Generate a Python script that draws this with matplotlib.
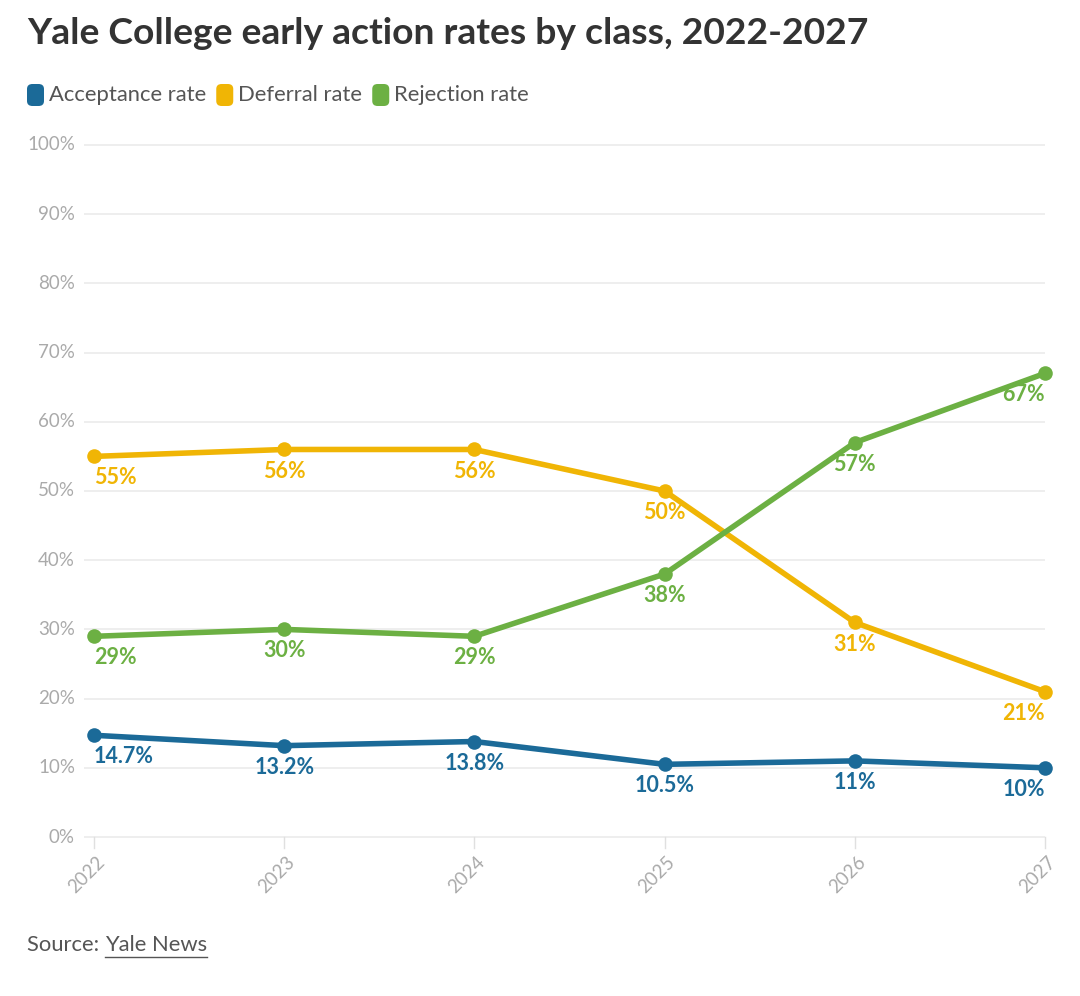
import matplotlib
matplotlib.use("Agg")
import matplotlib.pyplot as plt
from matplotlib.patches import FancyBboxPatch

years = [2022, 2023, 2024, 2025, 2026, 2027]
acceptance = [14.7, 13.2, 13.8, 10.5, 11, 10]
deferral = [55, 56, 56, 50, 31, 21]
rejection = [29, 30, 29, 38, 57, 67]
acc_labels = ["14.7%", "13.2%", "13.8%", "10.5%", "11%", "10%"]
yticks = [0, 10, 20, 30, 40, 50, 60, 70, 80, 90, 100]

blue = "#1b6a98"
yellow = "#f0b505"
green = "#6cb043"
grey_txt = "#aaaaaa"

plt.rcParams["font.family"] = ["Lato", "DejaVu Sans"]

fig = plt.figure(figsize=(10.8, 9.96), dpi=100)
ax = fig.add_axes([94 / 1080, 1 - 837 / 996, (1045 - 94) / 1080, (837 - 145) / 996])
ax.set_xlim(2022, 2027)
ax.set_ylim(0, 100)
for s in ax.spines.values():
    s.set_visible(False)
ax.set_xticks([])
ax.set_yticks([])

# grid
ax.hlines(yticks, 2021.95, 2027, color="#ebebeb", lw=1.2, zorder=0, clip_on=False)
for v in yticks:
    ax.text(2021.9, v, f"{v}%", ha="right", va="center", fontsize=13.5, color=grey_txt)
for yr in years:
    ax.plot([yr, yr], [0, -1.6], color="#e0e0e0", lw=1, clip_on=False)
    ax.text(yr + 0.01, -2.4, str(yr), rotation=45, ha="right", va="top", fontsize=13.5,
            color=grey_txt, rotation_mode="anchor")

series = [(acceptance, blue, acc_labels),
          (deferral, yellow, [f"{v}%" for v in deferral]),
          (rejection, green, [f"{v}%" for v in rejection])]
for vals, col, labs in series:
    ax.plot(years, vals, color=col, lw=4, zorder=3, clip_on=False,
            solid_joinstyle="round", solid_capstyle="round")
    ax.scatter(years, vals, s=110, color=col, zorder=4, clip_on=False, linewidths=0)
    for i, (yr, v, lab) in enumerate(zip(years, vals, labs)):
        ha = "left" if i == 0 else ("right" if i == len(years) - 1 else "center")
        ax.text(yr, v - 1.6, lab, ha=ha, va="top", fontsize=15.5, fontweight="bold",
                color=col, zorder=5)

# title
fig.text(27 / 1080, 1 - 34 / 996, "Yale College early action rates by class, 2022-2027",
         fontsize=26.8, fontweight="bold", color="#333333", ha="left", va="center")

# legend
lx = 27
for name, col in [("Acceptance rate", blue), ("Deferral rate", yellow), ("Rejection rate", green)]:
    fig.patches.append(FancyBboxPatch((lx / 1080, 1 - 106 / 996), 17 / 1080, 22 / 996,
                                      boxstyle="round,pad=0,rounding_size=0.005",
                                      transform=fig.transFigure, facecolor=col, edgecolor="none"))
    t = fig.text((lx + 22) / 1080, 1 - 95 / 996, name, fontsize=15.8, color="#555555",
                 ha="left", va="center")
    fig.canvas.draw()
    bb = t.get_window_extent()
    lx = bb.x1 + 10

# source
t = fig.text(27 / 1080, 1 - 945 / 996, "Source: ", fontsize=15.8, color="#555555",
             ha="left", va="center")
fig.canvas.draw()
bb = t.get_window_extent()
t2 = fig.text(bb.x1 / 1080, 1 - 945 / 996, "Yale News", fontsize=15.8, color="#555555",
              ha="left", va="center")
fig.canvas.draw()
b2 = t2.get_window_extent()
fig.add_artist(plt.Line2D([b2.x0 / 1080, b2.x1 / 1080], [(b2.y0 - 2) / 996] * 2,
                          color="#555555", lw=1, transform=fig.transFigure))

fig.savefig("out.png", dpi=100, facecolor="white")
